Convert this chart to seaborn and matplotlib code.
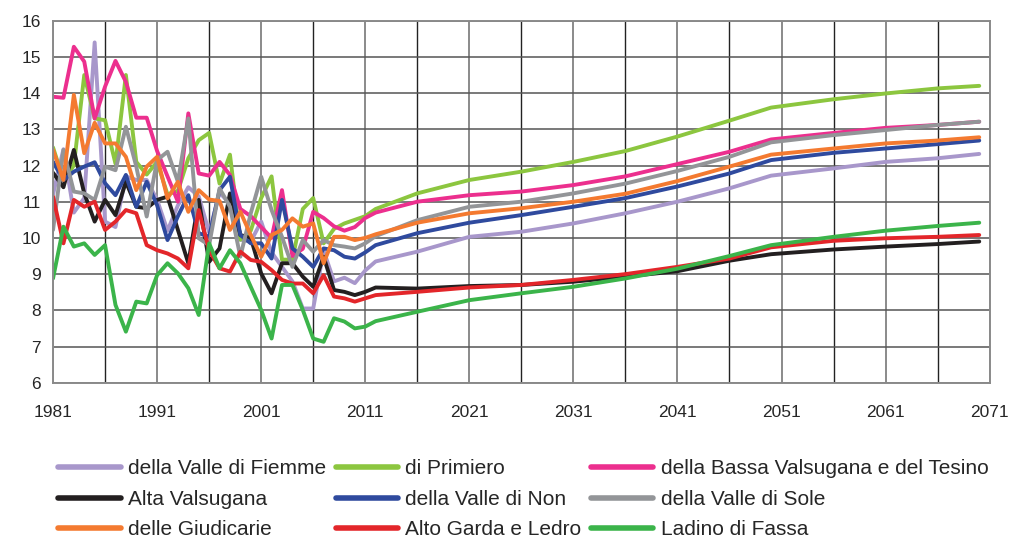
import pandas as pd
import matplotlib
import matplotlib.pyplot as plt
import seaborn as sns

matplotlib.use('Agg')

# anni: dati annuali fino al 2012, poi proiezioni
anni = list(range(1981, 2013)) + [2016, 2021, 2026, 2031, 2036, 2041, 2046, 2050, 2056, 2061, 2066, 2070]

fiemme = [11.2, 12.45, 10.7, 11.1, 15.4, 10.45, 10.3, 11.7, 11.6, 11.6, 11.05, 10.2, 10.9, 11.4, 11.15, 10.15,
          11.25, 10.95, 9.95, 9.9, 10.45, 9.6, 9.2, 8.8, 8.05, 8.05, 9.65, 8.8, 8.9, 8.75, 9.1, 9.35,
          9.62, 10.03, 10.17, 10.4, 10.68, 11.0, 11.37, 11.72, 11.92, 12.1, 12.2, 12.32]
primiero = [12.5, 11.6, 12.0, 14.5, 13.3, 13.25, 12.05, 14.5, 12.1, 11.75, 12.1, 11.2, 11.3, 12.2, 12.7, 12.9,
            11.5, 12.3, 9.95, 10.2, 11.1, 11.7, 9.4, 9.4, 10.8, 11.1, 9.85, 10.25, 10.4, 10.5, 10.6, 10.8,
            11.23, 11.6, 11.83, 12.1, 12.4, 12.8, 13.24, 13.6, 13.83, 13.99, 14.13, 14.2]
bassa = [13.9, 13.87, 15.28, 14.87, 13.3, 14.18, 14.89, 14.31, 13.32, 13.32, 12.4, 11.7, 11.0, 13.44, 11.78, 11.72,
         12.1, 11.74, 10.8, 10.6, 10.3, 10.0, 11.32, 9.5, 9.7, 10.72, 10.55, 10.32, 10.2, 10.3, 10.55, 10.7,
         11.0, 11.18, 11.28, 11.46, 11.7, 12.04, 12.38, 12.72, 12.9, 13.04, 13.12, 13.21]
alta = [11.8, 11.4, 12.43, 11.23, 10.45, 11.05, 10.63, 11.55, 10.86, 10.82, 11.05, 11.14, 10.22, 9.3, 11.05, 9.34,
        9.71, 11.23, 10.08, 10.0, 9.02, 8.47, 9.3, 9.3, 8.93, 8.65, 9.48, 8.56, 8.51, 8.42, 8.51, 8.63,
        8.6, 8.67, 8.7, 8.79, 8.93, 9.08, 9.37, 9.55, 9.68, 9.76, 9.83, 9.9]
non = [12.1, 11.6, 11.83, 11.97, 12.09, 11.51, 11.18, 11.74, 10.86, 11.55, 10.9, 9.94, 10.6, 11.18, 10.13, 10.03,
       11.32, 11.69, 10.08, 9.85, 9.85, 9.43, 11.05, 9.71, 9.48, 9.2, 9.71, 9.66, 9.48, 9.43, 9.6, 9.8,
       10.13, 10.42, 10.63, 10.86, 11.1, 11.42, 11.78, 12.15, 12.35, 12.47, 12.59, 12.69]
sole = [10.22, 12.43, 11.28, 11.23, 11.05, 11.97, 11.87, 13.07, 11.97, 10.59, 12.15, 12.38, 11.55, 13.3, 9.99, 9.8,
        11.37, 10.86, 9.48, 10.68, 11.69, 10.77, 10.03, 9.2, 9.94, 9.62, 9.94, 9.8, 9.76, 9.71, 9.85, 10.05,
        10.49, 10.86, 11.0, 11.23, 11.5, 11.85, 12.24, 12.64, 12.84, 12.98, 13.12, 13.21]
giudicarie = [12.43, 11.6, 13.95, 12.34, 13.18, 12.61, 12.61, 12.24, 11.32, 11.97, 12.24, 11.09, 11.55, 10.72, 11.32, 11.06,
              11.02, 10.22, 10.72, 10.08, 9.48, 10.08, 10.22, 10.54, 10.31, 10.4, 9.3, 10.03, 10.03, 9.94, 10.0, 10.1,
              10.42, 10.68, 10.82, 11.0, 11.22, 11.57, 11.97, 12.3, 12.47, 12.61, 12.69, 12.78]
garda = [11.14, 9.85, 11.05, 10.86, 11.0, 10.22, 10.45, 10.77, 10.68, 9.8, 9.66, 9.57, 9.43, 9.16, 10.77, 9.66,
         9.16, 9.07, 9.62, 9.39, 9.34, 9.11, 8.84, 8.74, 8.74, 8.47, 8.97, 8.38, 8.33, 8.24, 8.33, 8.42,
         8.51, 8.63, 8.7, 8.84, 9.0, 9.2, 9.43, 9.74, 9.92, 9.99, 10.03, 10.08]
fassa = [8.88, 10.31, 9.76, 9.85, 9.53, 9.8, 8.15, 7.41, 8.24, 8.19, 8.97, 9.3, 9.02, 8.61, 7.87, 9.85,
         9.16, 9.66, 9.3, 8.65, 8.01, 7.22, 8.7, 8.7, 8.01, 7.22, 7.13, 7.78, 7.69, 7.5, 7.55, 7.7,
         7.96, 8.28, 8.47, 8.65, 8.88, 9.15, 9.5, 9.8, 10.03, 10.2, 10.33, 10.42]

nomi = ['della Valle di Fiemme', 'di Primiero', 'della Bassa Valsugana e del Tesino',
        'Alta Valsugana', 'della Valle di Non', 'della Valle di Sole',
        'delle Giudicarie', 'Alto Garda e Ledro', 'Ladino di Fassa']
serie = [fiemme, primiero, bassa, alta, non, sole, giudicarie, garda, fassa]
colori = ['#a897cb', '#8cc63f', '#ec2f8e', '#231f20', '#2f4a9e', '#939598', '#f47a30', '#e3262a', '#3bb44a']

df = pd.concat([pd.DataFrame({'anno': anni, 'valore': v, 'distretto': n}) for n, v in zip(nomi, serie)])

sns.set_style('white')
plt.rcParams['font.family'] = ['Liberation Sans', 'DejaVu Sans']

fig = plt.figure(figsize=(10.14, 5.42), dpi=100)
ax = fig.add_axes([0.0523, 0.2939, 0.9237, 0.6679])

sns.lineplot(data=df, x='anno', y='valore', hue='distretto', hue_order=nomi,
             palette=dict(zip(nomi, colori)), linewidth=2.8, estimator=None, ax=ax)

ax.set_xlim(1981, 2071)
ax.set_ylim(6, 16)
ax.set_xticks(range(1981, 2072, 10))
ax.set_xticks(range(1986, 2072, 10), minor=True)
ax.set_yticks(range(6, 17))
ax.set_xlabel('')
ax.set_ylabel('')
ax.tick_params(axis='both', which='both', direction='out', length=5, color='#555555', labelsize=12.5)
ax.tick_params(axis='x', pad=11)

# griglia
ax.xaxis.grid(True, which='major', color='#8a8a8a', linewidth=1.4)
ax.xaxis.grid(True, which='minor', color='#222222', linewidth=1.0)
ax.yaxis.grid(True, which='major', color='#555555', linewidth=1.1)
ax.set_axisbelow(True)
for s in ax.spines.values():
    s.set_color('#8a8a8a')
    s.set_linewidth(1.4)

handles, labels = ax.get_legend_handles_labels()
ax.get_legend().remove()
ordine = [0, 3, 6, 1, 4, 7, 2, 5, 8]
leg = fig.legend([handles[i] for i in ordine], [labels[i] for i in ordine],
                 loc='upper left', bbox_to_anchor=(50 / 1014, 1 - 451 / 542), ncol=3, frameon=False,
                 fontsize=15, handlelength=3.0, handletextpad=0.35, columnspacing=0.45,
                 labelspacing=0.55, borderaxespad=0)
for line in leg.get_lines():
    line.set_linewidth(4)

fig.savefig('out.png', dpi=100)
